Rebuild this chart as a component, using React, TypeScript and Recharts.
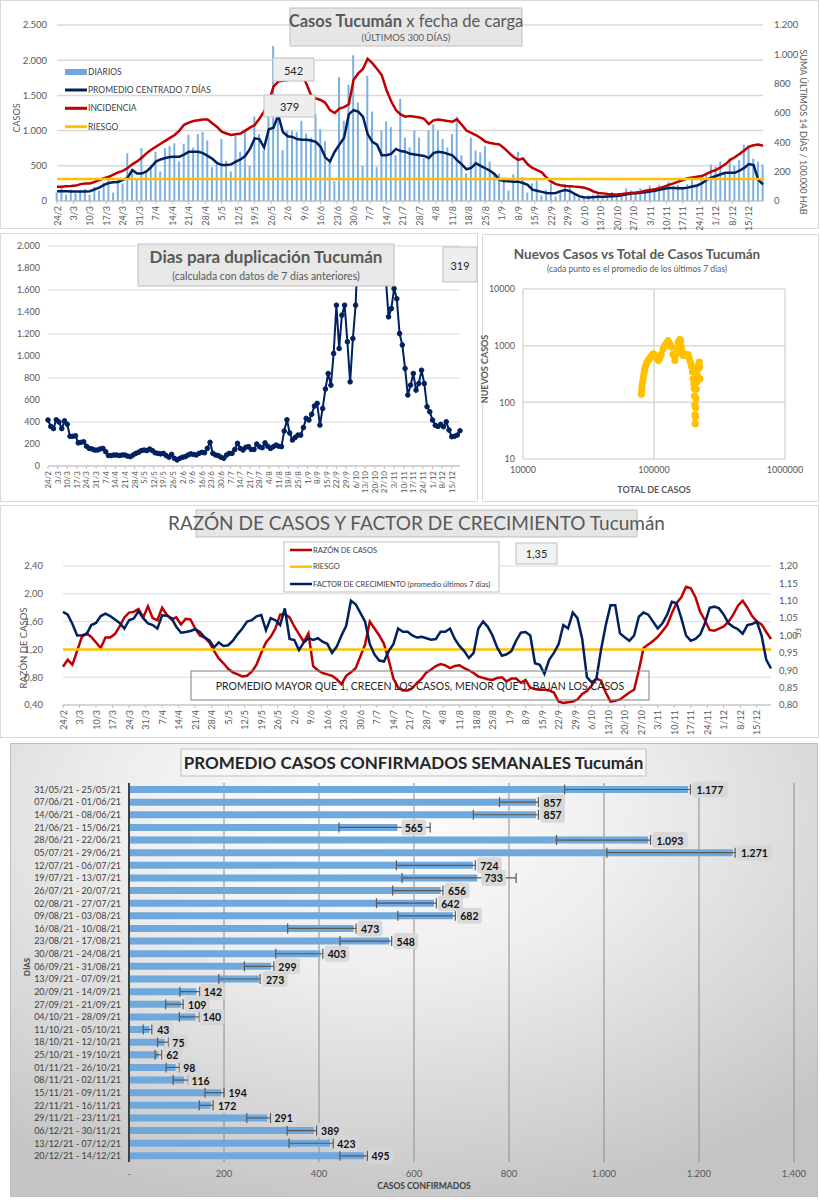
import React from 'react';
import {
  ComposedChart,
  BarChart,
  ScatterChart,
  Bar,
  Line,
  Scatter,
  XAxis,
  YAxis,
  CartesianGrid,
  ReferenceLine,
  ErrorBar,
  LabelList,
} from 'recharts';

const FONT = 'Lato, "Open Sans", sans-serif';
const GRAY = '#595959';

// eje de fechas (una marca cada 7 dias, desde 24/2)
const tickLabels = [
  '24/2', '3/3', '10/3', '17/3', '24/3', '31/3', '7/4', '14/4', '21/4', '28/4', '5/5',
  '12/5', '19/5', '26/5', '2/6', '9/6', '16/6', '23/6', '30/6', '7/7', '14/7', '21/7',
  '28/7', '4/8', '11/8', '18/8', '25/8', '1/9', '8/9', '15/9', '22/9', '29/9', '6/10',
  '13/10', '20/10', '27/10', '3/11', '10/11', '17/11', '24/11', '1/12', '8/12', '15/12',
];
const tickDays = tickLabels.map((_, i) => i * 7);
const STEP = 2; // una muestra cada 2 dias

// casos diarios (barras)
const diarios = [
  120, 180, 90, 160, 110, 150, 170, 90, 200, 150,
  260, 300, 120, 320, 250, 680, 420, 300, 750, 400,
  520, 700, 420, 750, 780, 820, 560, 810, 940, 760,
  950, 980, 860, 480, 560, 880, 570, 420, 920, 700,
  1000, 500, 1200, 950, 720, 1200, 2200, 1500, 720, 1000,
  1000, 980, 1140, 960, 900, 1240, 1020, 850, 550, 280,
  1760, 1140, 1650, 2070, 1400, 500, 1780, 1270, 480, 1000,
  1130, 1050, 650, 1450, 900, 760, 1000, 900, 610, 1000,
  1090, 1000, 880, 760, 950, 1200, 650, 390, 900, 720,
  690, 780, 560, 400, 390, 330, 150, 380, 700, 340,
  120, 250, 290, 80, 160, 250, 60, 160, 240, 200,
  120, 40, 50, 80, 90, 110, 70, 60, 130, 90,
  100, 180, 150, 120, 180, 140, 220, 150, 230, 180,
  270, 210, 230, 180, 240, 300, 220, 340, 380, 520,
  490, 560, 390, 610, 500, 580, 800, 760, 600, 560,
  520,
];
// promedio centrado 7 dias
const promedio7 = [
  140, 140, 138, 135, 135, 135, 135, 140, 165, 190,
  230, 255, 265, 270, 300, 330, 440, 390, 390, 420,
  480, 560, 590, 610, 625, 630, 630, 660, 700, 700,
  700, 680, 640, 600, 540, 510, 510, 520, 560, 590,
  640, 740, 890, 880, 760, 1020, 1040, 1220, 980, 920,
  910, 880, 870, 870, 860, 840, 770, 620, 560, 700,
  800, 900, 1230, 1290, 1270, 1200, 950, 840, 800, 650,
  650, 670, 740, 710, 700, 670, 660, 650, 640, 610,
  680, 700, 690, 670, 650, 580, 520, 450, 470, 535,
  500, 465, 430, 380, 300, 285, 280, 275, 275, 255,
  230, 160, 145, 130, 115, 110, 115, 140, 156, 140,
  100, 65, 52, 50, 55, 60, 62, 65, 68, 71,
  80, 95, 105, 110, 118, 125, 133, 145, 160, 175,
  185, 185, 180, 180, 190, 205, 220, 250, 300, 330,
  355, 380, 400, 400, 400, 430, 470, 525, 510, 300,
  237,
];
// incidencia: suma ultimos 14 dias / 100.000 hab
const incidencia = [
  98, 98, 100, 102, 105, 115, 120, 120, 130, 143,
  155, 165, 180, 195, 205, 225, 250, 270, 295, 325,
  350, 370, 390, 410, 430, 450, 480, 520, 534, 545,
  550, 555, 555, 530, 505, 473, 460, 450, 455, 460,
  480, 500, 518, 560, 610, 680, 780, 814, 820, 825,
  840, 845, 860, 800, 720, 700, 689, 670, 620, 600,
  630, 640, 660, 825, 870, 900, 970, 940, 900, 859,
  757, 680, 620, 590, 575, 580, 575, 570, 560, 525,
  550, 555, 550, 545, 541, 557, 520, 480, 465, 450,
  430, 405, 395, 390, 386, 360, 330, 300, 280, 290,
  250, 225, 210, 195, 160, 132, 115, 108, 102, 100,
  98, 95, 91, 80, 65, 55, 52, 48, 46, 45,
  48, 52, 55, 58, 62, 70, 75, 80, 88, 98,
  110, 120, 132, 143, 155, 160, 165, 170, 185, 200,
  211, 230, 250, 280, 298, 320, 345, 370, 380, 385,
  377,
];
const riesgoIncidencia = 150;

// dias para duplicacion
const duplicacion = [
  418, 360, 340, 420, 400, 340, 410, 380, 270, 270,
  275, 210, 215, 220, 180, 160, 155, 145, 145, 155,
  160, 130, 95, 95, 100, 100, 95, 100, 100, 90,
  85, 100, 115, 125, 140, 145, 140, 154, 140, 120,
  115, 110, 115, 95, 80, 106, 70, 55, 70, 80,
  85, 100, 110, 105, 100, 115, 124, 120, 160, 215,
  115, 100, 94, 80, 70, 100, 115, 115, 150, 206,
  160, 145, 170, 176, 150, 150, 200, 175, 166, 210,
  180, 160, 175, 190, 180, 176, 318, 420, 300, 236,
  260, 281, 281, 350, 433, 418, 470, 545, 569, 372,
  523, 700, 841, 735, 1023, 1462, 1068, 1371, 1462, 1129,
  765, 1159, 1462, 2100, 2600, 3000, 3200, 3000, 2800, 2600,
  2500, 2300, 2000, 1700, 1356, 1431, 1613, 1520, 1204, 1100,
  887, 645, 735, 841, 690, 750, 871, 750, 539, 493,
  418, 370, 360, 378, 357, 402, 327, 266, 270, 281,
  320,
];

// nuevos casos vs total de casos
const totalCasos = [
  80000, 80500, 81000, 81800, 82600, 83500, 84300, 85100, 86500, 88000,
  90200, 92500, 95000, 98700, 101000, 104000, 107700, 110500, 113500, 117500,
  121000, 124500, 128200, 131000, 133500, 136000, 140000, 144300, 147000, 150000,
  153000, 157500, 160000, 162000, 165000, 167000, 172000, 177000, 182500, 186000,
  190000, 193500, 196900, 199500, 201500, 202700, 204000, 205000, 205800, 206400,
  207200, 207900, 208900, 210500, 212000, 213800, 216000, 218500, 221400, 223000,
  224000,
];
const nuevosCasos = [
  139, 160, 190, 225, 262, 300, 345, 392, 450, 500,
  550, 600, 650, 720, 690, 620, 550, 600, 700, 881,
  1000, 1100, 1233, 1100, 1000, 942, 700, 550, 700, 900,
  1150, 1285, 1200, 942, 760, 670, 690, 700, 690, 600,
  510, 430, 343, 260, 210, 175, 130, 89, 60, 42,
  55, 80, 116, 170, 230, 300, 380, 450, 513, 420,
  260,
];

// razon de casos y factor de crecimiento
const razonCasos = [
  0.95, 1.05, 0.98, 1.18, 1.38, 1.43, 1.38, 1.30, 1.22, 1.37,
  1.37, 1.42, 1.53, 1.66, 1.73, 1.74, 1.78, 1.66, 1.82, 1.65,
  1.62, 1.80, 1.70, 1.63, 1.66, 1.56, 1.64, 1.63, 1.50, 1.40,
  1.37, 1.30, 1.18, 1.07, 1.00, 0.92, 0.87, 0.84, 0.81, 0.82,
  0.88, 0.98, 1.15, 1.30, 1.38, 1.50, 1.70, 1.71, 1.66, 1.53,
  1.42, 1.31, 1.43, 0.96, 0.90, 0.86, 0.84, 0.82, 0.77, 0.70,
  0.82, 0.87, 0.93, 1.10, 1.27, 1.60, 1.50, 1.40, 1.28, 1.05,
  0.78, 0.65, 0.61, 0.61, 0.64, 0.72, 0.78, 0.87, 0.91, 0.96,
  0.99, 0.97, 0.93, 0.96, 0.97, 0.93, 0.90, 0.86, 0.81, 0.79,
  0.77, 0.76, 0.79, 0.80, 0.74, 0.78, 0.78, 0.72, 0.76, 0.65,
  0.63, 0.62, 0.62, 0.61, 0.58, 0.45, 0.43, 0.44, 0.45, 0.48,
  0.56, 0.60, 0.68, 0.78, 0.75, 0.58, 0.45, 0.46, 0.48, 0.53,
  0.58, 0.62, 0.90, 1.22, 1.27, 1.32, 1.38, 1.46, 1.55, 1.72,
  1.87, 1.95, 2.10, 2.08, 1.95, 1.74, 1.62, 1.48, 1.47, 1.50,
  1.53, 1.60, 1.70, 1.83, 1.90, 1.80, 1.68, 1.60, 1.56, 1.45,
  1.35,
];
const factorCrecimiento = [
  1.068, 1.06, 1.033, 1.0, 1.001, 1.004, 1.03, 1.036, 1.056, 1.063,
  1.056, 1.046, 1.036, 1.02, 1.044, 1.049, 1.07, 1.05, 1.035, 1.03,
  1.02, 1.058, 1.057, 1.05, 1.025, 1.008, 1.01, 1.013, 1.018, 1.01,
  0.995, 0.986, 0.966, 0.98, 0.97, 0.972, 0.985, 1.004, 1.02, 1.04,
  1.044, 1.055, 1.059, 1.015, 1.05, 1.044, 1.03, 1.078, 0.99, 0.987,
  0.958, 0.98, 0.992, 0.987, 0.992, 0.982, 0.976, 0.95, 0.968, 1.0,
  1.028, 1.1, 1.09, 1.065, 1.04, 0.975, 0.945, 0.928, 0.925, 0.955,
  0.975, 1.02, 1.011, 1.011, 1.0, 0.994, 0.996, 0.992, 0.988, 0.99,
  1.011, 1.011, 1.02, 0.99, 0.97, 0.955, 0.935, 0.95, 1.02, 1.04,
  1.025, 1.0, 0.965, 0.942, 0.946, 0.955, 0.985, 1.008, 1.01, 1.0,
  0.92, 0.916, 0.89, 0.93, 0.95, 0.975, 1.03, 1.02, 1.066, 1.05,
  0.99, 0.88, 0.865, 0.875, 0.96, 1.03, 1.087, 1.087, 1.006, 0.995,
  0.985, 1.0, 1.054, 1.066, 1.06, 1.04, 1.02, 1.035, 1.06, 1.097,
  1.093, 1.05, 1.0, 0.985, 0.99, 1.003, 1.035, 1.08, 1.083, 1.078,
  1.06, 1.035, 1.025, 1.018, 1.005, 1.03, 1.033, 1.04, 1.0, 0.93,
  0.905,
];
const riesgoRazon = 1.2;

// promedio semanal
const semanas = [
  '31/05/21 - 25/05/21', '07/06/21 - 01/06/21', '14/06/21 - 08/06/21', '21/06/21 - 15/06/21',
  '28/06/21 - 22/06/21', '05/07/21 - 29/06/21', '12/07/21 - 06/07/21', '19/07/21 - 13/07/21',
  '26/07/21 - 20/07/21', '02/08/21 - 27/07/21', '09/08/21 - 03/08/21', '16/08/21 - 10/08/21',
  '23/08/21 - 17/08/21', '30/08/21 - 24/08/21', '06/09/21 - 31/08/21', '13/09/21 - 07/09/21',
  '20/09/21 - 14/09/21', '27/09/21 - 21/09/21', '04/10/21 - 28/09/21', '11/10/21 - 05/10/21',
  '18/10/21 - 12/10/21', '25/10/21 - 19/10/21', '01/11/21 - 26/10/21', '08/11/21 - 02/11/21',
  '15/11/21 - 09/11/21', '22/11/21 - 16/11/21', '29/11/21 - 23/11/21', '06/12/21 - 30/11/21',
  '13/12/21 - 07/12/21', '20/12/21 - 14/12/21',
];
const promedioSemanal = [
  1177, 857, 857, 565, 1093, 1271, 724, 733, 656, 642, 682, 473, 548, 403, 299,
  273, 142, 109, 140, 43, 75, 62, 98, 116, 194, 172, 291, 389, 423, 495,
];
const errMenos = [
  260, 77, 132, 123, 193, 265, 161, 158, 101, 121, 116, 139, 104, 94, 56,
  84, 35, 32, 34, 13, 15, 7, 20, 23, 34, 24, 43, 56, 86, 51,
];
const errMas = [
  5, 5, 5, 69, 5, 5, 5, 82, 5, 5, 5, 5, 5, 5, 6,
  3, 7, 5, 8, 5, 8, 7, 8, 9, 6, 5, 7, 6, 7, 7,
];

const casosData = diarios.map((d, i) => ({
  day: i * STEP,
  diarios: d,
  promedio: promedio7[i],
  incidencia: incidencia[i],
}));
const dupData = duplicacion.map((v, i) => ({ day: i * STEP, dup: v }));
const scatterData = totalCasos.map((t, i) => ({ total: t, nuevos: nuevosCasos[i] }));
const razonData = razonCasos.map((r, i) => ({ day: i * STEP, razon: r, factor: factorCrecimiento[i] }));
const semanalData = semanas.map((s, i) => ({
  semana: s,
  promedio: promedioSemanal[i],
  err: [errMenos[i], errMas[i]],
}));

const miles = (v: number) => String(v).replace(/\B(?=(\d{3})+(?!\d))/g, '.');
const coma = (v: number) => v.toFixed(2).replace('.', ',');

const RotTick = (props: any) => {
  const { x, y, payload, fontSize } = props;
  const label = tickLabels[Math.round(payload.value / 7)];
  return (
    <text
      x={x}
      y={y}
      transform={`rotate(-90 ${x} ${y})`}
      textAnchor="end"
      dominantBaseline="central"
      fontSize={fontSize}
      fill={GRAY}
      fontFamily={FONT}
    >
      {label}
    </text>
  );
};

// etiqueta de semana sin cortes de linea
const SemanaTick = (props: any) => {
  const { x, y, payload } = props;
  return (
    <text x={x} y={y} textAnchor="end" dominantBaseline="central" fontSize={9} fill="#404040" fontFamily={FONT}>
      {payload.value}
    </text>
  );
};

const ValueLabel = (props: any) => {
  const { x, y, width, height, value } = props;
  const text = miles(value);
  const w = text.length * 5.3 + 9;
  const bx = x + width + 4;
  const cy = y + height / 2;
  return (
    <g>
      <rect x={bx} y={cy - 8} width={w} height={16} rx={3} fill="#d6d6d6" fillOpacity={0.9} />
      <text x={bx + w / 2} y={cy + 0.5} textAnchor="middle" dominantBaseline="central"
        fontSize={10.5} fontWeight="bold" fill="#111" fontFamily={FONT}>
        {text}
      </text>
    </g>
  );
};

const yTick = { fontSize: 9.5, fill: GRAY, fontFamily: FONT };

const panel = (left: number, top: number, w: number, h: number, extra: any = {}) => ({
  position: 'absolute' as const,
  left,
  top,
  width: w,
  height: h,
  boxSizing: 'border-box' as const,
  border: '1px solid #d9d9d9',
  background: '#fff',
  ...extra,
});

const at = (left: number, top: number) => ({ position: 'absolute' as const, left, top });

export default function App() {
  return (
    <div style={{ position: 'absolute', left: 0, top: 0, width: 820, height: 1200, background: '#fff', fontFamily: FONT, overflow: 'hidden' }}>
      <div style={panel(0, 0, 819, 229)} />
      <div style={panel(0, 233, 478, 269)} />
      <div style={panel(482, 234, 337, 268)} />
      <div style={panel(0, 505, 819, 233)} />
      <div style={panel(10, 743, 808, 454, {
        border: '1px solid #bfbfbf',
        background: 'radial-gradient(ellipse 80% 90% at 45% 15%, #ffffff 0%, #eeeeee 40%, #c4c4c4 100%)',
      })} />

      {/* Casos Tucuman x fecha de carga */}
      <div style={at(0, 0)}>
        <ComposedChart width={820} height={230} data={casosData} margin={{ top: 25, right: 17, bottom: 1, left: 7 }}>
          <CartesianGrid yAxisId="left" vertical={false} stroke="#d9d9d9" strokeWidth={1.5} />
          <XAxis dataKey="day" type="number" domain={[0, 300]} ticks={tickDays} interval={0}
            tick={(p: any) => <RotTick {...p} fontSize={9} />} height={28} tickSize={3} stroke="#bfbfbf" />
          <YAxis yAxisId="left" domain={[0, 2500]} ticks={[0, 500, 1000, 1500, 2000, 2500]} tickFormatter={miles}
            width={50} axisLine={false} tickLine={false} tickMargin={4} tick={yTick} />
          <YAxis yAxisId="right" orientation="right" domain={[0, 1200]} ticks={[0, 200, 400, 600, 800, 1000, 1200]}
            tickFormatter={miles} width={40} axisLine={false} tickLine={false} tickMargin={5} tick={yTick} />
          <Bar yAxisId="left" dataKey="diarios" fill="#7bb0e0" barSize={2} isAnimationActive={false} />
          <Line yAxisId="left" type="linear" dataKey="promedio" stroke="#002060" strokeWidth={2.5} dot={false} isAnimationActive={false} />
          <Line yAxisId="right" type="linear" dataKey="incidencia" stroke="#c00000" strokeWidth={2.5} dot={false} isAnimationActive={false} />
          <ReferenceLine yAxisId="right" y={riesgoIncidencia} stroke="#ffc000" strokeWidth={2.5} />
        </ComposedChart>
      </div>

      {/* Dias para duplicacion */}
      <div style={at(0, 232)}>
        <ComposedChart width={480} height={270} data={dupData} margin={{ top: 14, right: 20, bottom: 6, left: 8 }}>
          <CartesianGrid vertical={false} stroke="#d9d9d9" />
          <XAxis dataKey="day" type="number" domain={[0, 300]} ticks={tickDays} interval={0}
            tick={(p: any) => <RotTick {...p} fontSize={8} />} height={30} tickSize={3} stroke="#bfbfbf" />
          <YAxis domain={[0, 2000]} allowDataOverflow ticks={[0, 200, 400, 600, 800, 1000, 1200, 1400, 1600, 1800, 2000]}
            tickFormatter={miles} width={40} axisLine={false} tickLine={false} tick={{ ...yTick, fontSize: 9 }} />
          <Line type="linear" dataKey="dup" stroke="#002060" strokeWidth={2}
            dot={{ r: 2.3, fill: '#002060', stroke: '#002060', strokeWidth: 1 }} isAnimationActive={false} />
        </ComposedChart>
      </div>

      {/* Nuevos casos vs total */}
      <div style={at(480, 232)}>
        <ScatterChart width={340} height={270} margin={{ top: 57, right: 35, bottom: 23, left: 8 }}>
          <CartesianGrid stroke="#d9d9d9" strokeWidth={1.5} />
          <XAxis type="number" dataKey="total" scale="log" domain={[10000, 1000000]} allowDataOverflow
            ticks={[10000, 100000, 1000000]} axisLine={false} tickLine={false} height={20} tick={{ ...yTick, fontSize: 9 }} />
          <YAxis type="number" dataKey="nuevos" scale="log" domain={[10, 10000]} allowDataOverflow
            ticks={[10, 100, 1000, 10000]} axisLine={false} tickLine={false} width={35} tick={{ ...yTick, fontSize: 9 }} />
          <Scatter data={scatterData} isAnimationActive={false}
            shape={(p: any) => <circle cx={p.cx} cy={p.cy} r={3.6} fill="#ffc000" />} />
        </ScatterChart>
      </div>

      {/* Razon de casos y factor de crecimiento */}
      <div style={at(0, 505)}>
        <ComposedChart width={820} height={235} data={razonData} margin={{ top: 61, right: 14, bottom: 5, left: 21 }}>
          <CartesianGrid yAxisId="left" vertical={false} stroke="#d9d9d9" />
          <XAxis dataKey="day" type="number" domain={[0, 300]} ticks={tickDays} interval={0}
            tick={(p: any) => <RotTick {...p} fontSize={9} />} height={30} tickSize={3} stroke="#bfbfbf" />
          <YAxis yAxisId="left" domain={[0.4, 2.4]} ticks={[0.4, 0.6, 0.8, 1, 1.2, 1.4, 1.6, 1.8, 2, 2.2, 2.4]}
            tickFormatter={coma} width={42} axisLine={false} tickLine={false} tickMargin={14} tick={yTick} />
          <YAxis yAxisId="right" orientation="right" domain={[0.8, 1.2]} ticks={[0.8, 0.85, 0.9, 0.95, 1, 1.05, 1.1, 1.15, 1.2]}
            tickFormatter={coma} width={35} axisLine={false} tickLine={false} tick={yTick} />
          <Line yAxisId="left" type="linear" dataKey="razon" stroke="#c00000" strokeWidth={2.5} dot={false} isAnimationActive={false} />
          <ReferenceLine yAxisId="left" y={riesgoRazon} stroke="#ffc000" strokeWidth={2.5} />
          <Line yAxisId="right" type="linear" dataKey="factor" stroke="#002060" strokeWidth={2.5} dot={false} isAnimationActive={false} />
        </ComposedChart>
      </div>

      {/* Promedio casos confirmados semanales */}
      <div style={at(10, 743)}>
        <BarChart layout="vertical" width={808} height={455} data={semanalData} margin={{ top: 40, right: 24, bottom: 6, left: 4 }}>
          <CartesianGrid horizontal={false} stroke="#8c8c8c" />
          <XAxis type="number" domain={[0, 1400]} ticks={[0, 200, 400, 600, 800, 1000, 1200, 1400]}
            tickFormatter={(v: number) => (v === 0 ? '-' : miles(v))} axisLine={false} tickLine={false} height={30}
            tick={{ ...yTick, fontSize: 9.5 }} />
          <YAxis type="category" dataKey="semana" width={115} interval={0} tickLine={false}
            axisLine={{ stroke: '#404040', strokeWidth: 2 }} tick={SemanaTick} />
          <Bar dataKey="promedio" fill="#6fa8dc" barSize={7} isAnimationActive={false}>
            <ErrorBar dataKey="err" direction="x" width={5} stroke="#595959" strokeWidth={1.2} />
            <LabelList dataKey="promedio" content={ValueLabel} />
          </Bar>
        </BarChart>
      </div>

      {/* textos y cuadros superpuestos */}
      <svg width={820} height={1200} style={{ position: 'absolute', left: 0, top: 0, pointerEvents: 'none' }} fontFamily={FONT}>
        {/* panel 1 */}
        <rect x={290} y={8} width={232} height={38} fill="#e7e6e6" stroke="#bfbfbf" />
        <text x={406} y={27} textAnchor="middle" fontSize={16.5} fill={GRAY}>
          <tspan fontWeight="bold">Casos Tucumán</tspan>
          <tspan>{'  x fecha de carga'}</tspan>
        </text>
        <text x={406} y={41} textAnchor="middle" fontSize={9.5} fill={GRAY}>(ÚLTIMOS 300 DÍAS)</text>
        <rect x={273} y={58} width={41} height={23} fill="#eeeeee" stroke="#bfbfbf" />
        <text x={293.5} y={70} textAnchor="middle" dominantBaseline="central" fontSize={11} fill="#262626">542</text>
        <rect x={264} y={95} width={51} height={22} fill="#eeeeee" stroke="#bfbfbf" />
        <text x={289.5} y={106} textAnchor="middle" dominantBaseline="central" fontSize={11} fill="#262626">379</text>
        <rect x={65} y={69} width={22} height={6} fill="#6fa8dc" />
        <line x1={65} x2={87} y1={90} y2={90} stroke="#002060" strokeWidth={3} />
        <line x1={65} x2={87} y1={108.3} y2={108.3} stroke="#c00000" strokeWidth={3} />
        <line x1={65} x2={87} y1={126.7} y2={126.7} stroke="#ffc000" strokeWidth={3} />
        <text x={88} y={72} dominantBaseline="central" fontSize={8.5} fill="#404040">DIARIOS</text>
        <text x={88} y={90} dominantBaseline="central" fontSize={8.5} fill="#404040">PROMEDIO CENTRADO 7 DÍAS</text>
        <text x={88} y={108.3} dominantBaseline="central" fontSize={8.5} fill="#404040">INCIDENCIA</text>
        <text x={88} y={126.7} dominantBaseline="central" fontSize={8.5} fill="#404040">RIESGO</text>
        <text x={16} y={118} transform="rotate(-90 16 118)" textAnchor="middle" dominantBaseline="central" fontSize={9} fill={GRAY}>CASOS</text>
        <text x={803} y={132} transform="rotate(90 803 132)" textAnchor="middle" dominantBaseline="central" fontSize={9} fill={GRAY}>
          SUMA  ÚLTIMOS 14 DÍAS / 100.000 HAB
        </text>

        {/* panel 2 */}
        <rect x={138} y={244} width={256} height={42} fill="#e8e8e8" stroke="#bfbfbf" />
        <text x={266} y={263} textAnchor="middle" fontSize={17} fontWeight="bold" fill={GRAY}>Dias para duplicación Tucumán</text>
        <text x={266} y={280} textAnchor="middle" fontSize={10.5} fill={GRAY}>(calculada con datos de 7 días anteriores)</text>
        <rect x={443} y={247} width={34} height={35} fill="#eeeeee" stroke="#bfbfbf" />
        <text x={460} y={265} textAnchor="middle" dominantBaseline="central" fontSize={11} fill="#262626">319</text>

        {/* panel 3 */}
        <text x={637} y={259} textAnchor="middle" fontSize={13.5} fontWeight="bold" fill={GRAY}>Nuevos Casos vs Total de Casos Tucumán</text>
        <text x={637} y={272} textAnchor="middle" fontSize={8.5} fill={GRAY}>(cada punto es el promedio de los últimos 7 dias)</text>
        <text x={654} y={489} textAnchor="middle" dominantBaseline="central" fontSize={9} fontWeight="bold" fill={GRAY}>TOTAL DE CASOS</text>
        <text x={484} y={369} transform="rotate(-90 484 369)" textAnchor="middle" dominantBaseline="central" fontSize={9} fontWeight="bold" fill={GRAY}>NUEVOS CASOS</text>

        {/* panel 4 */}
        <rect x={196} y={510} width={441} height={27} fill="#e7e6e6" stroke="#bfbfbf" />
        <text x={416.5} y={530} textAnchor="middle" fontSize={19} fill={GRAY}>RAZÓN DE CASOS Y FACTOR DE CRECIMIENTO Tucumán</text>
        <rect x={284} y={542} width={215} height={50} fill="#ffffff" stroke="#bfbfbf" />
        <line x1={290} x2={312} y1={550} y2={550} stroke="#c00000" strokeWidth={2.5} />
        <line x1={290} x2={312} y1={566.7} y2={566.7} stroke="#ffc000" strokeWidth={2.5} />
        <line x1={290} x2={312} y1={584} y2={584} stroke="#002060" strokeWidth={2.5} />
        <text x={313} y={550} dominantBaseline="central" fontSize={7.5} fill="#404040">RAZÓN DE CASOS</text>
        <text x={313} y={566.7} dominantBaseline="central" fontSize={7.5} fill="#404040">RIESGO</text>
        <text x={313} y={584} dominantBaseline="central" fontSize={7.5} fill="#404040">FACTOR DE CRECIMIENTO (promedio últimos 7 días)</text>
        <rect x={516} y={543} width={41} height={21} fill="#f2f2f2" stroke="#bfbfbf" />
        <text x={536.5} y={553.5} textAnchor="middle" dominantBaseline="central" fontSize={11} fill="#262626">1,35</text>
        <text x={23} y={648} transform="rotate(-90 23 648)" textAnchor="middle" dominantBaseline="central" fontSize={9.5} fill={GRAY}>RAZÓN  DE CASOS</text>
        <text x={798} y={633} transform="rotate(90 798 633)" textAnchor="middle" dominantBaseline="central" fontSize={8} fill={GRAY}>FC</text>
        <rect x={191} y={671} width={458} height={29} fill="none" stroke="#7f7f7f" />
        <text x={420} y={686} textAnchor="middle" dominantBaseline="central" fontSize={10.5} fill="#262626">
          PROMEDIO MAYOR QUE 1, CRECEN LOS CASOS, MENOR QUE 1, BAJAN LOS CASOS
        </text>

        {/* panel 5 */}
        <rect x={181} y={749} width={465} height={27} fill="#f7f7f7" stroke="#bfbfbf" />
        <text x={413.5} y={769} textAnchor="middle" fontSize={17} fontWeight="bold" fill="#262626">PROMEDIO CASOS CONFIRMADOS SEMANALES Tucumán</text>
        <text x={424} y={1186} textAnchor="middle" dominantBaseline="central" fontSize={8.5} fontWeight="bold" fill="#404040">CASOS CONFIRMADOS</text>
        <text x={27} y={967} transform="rotate(-90 27 967)" textAnchor="middle" dominantBaseline="central" fontSize={8} fontWeight="bold" fill="#404040">DÍAS</text>
      </svg>
    </div>
  );
}
